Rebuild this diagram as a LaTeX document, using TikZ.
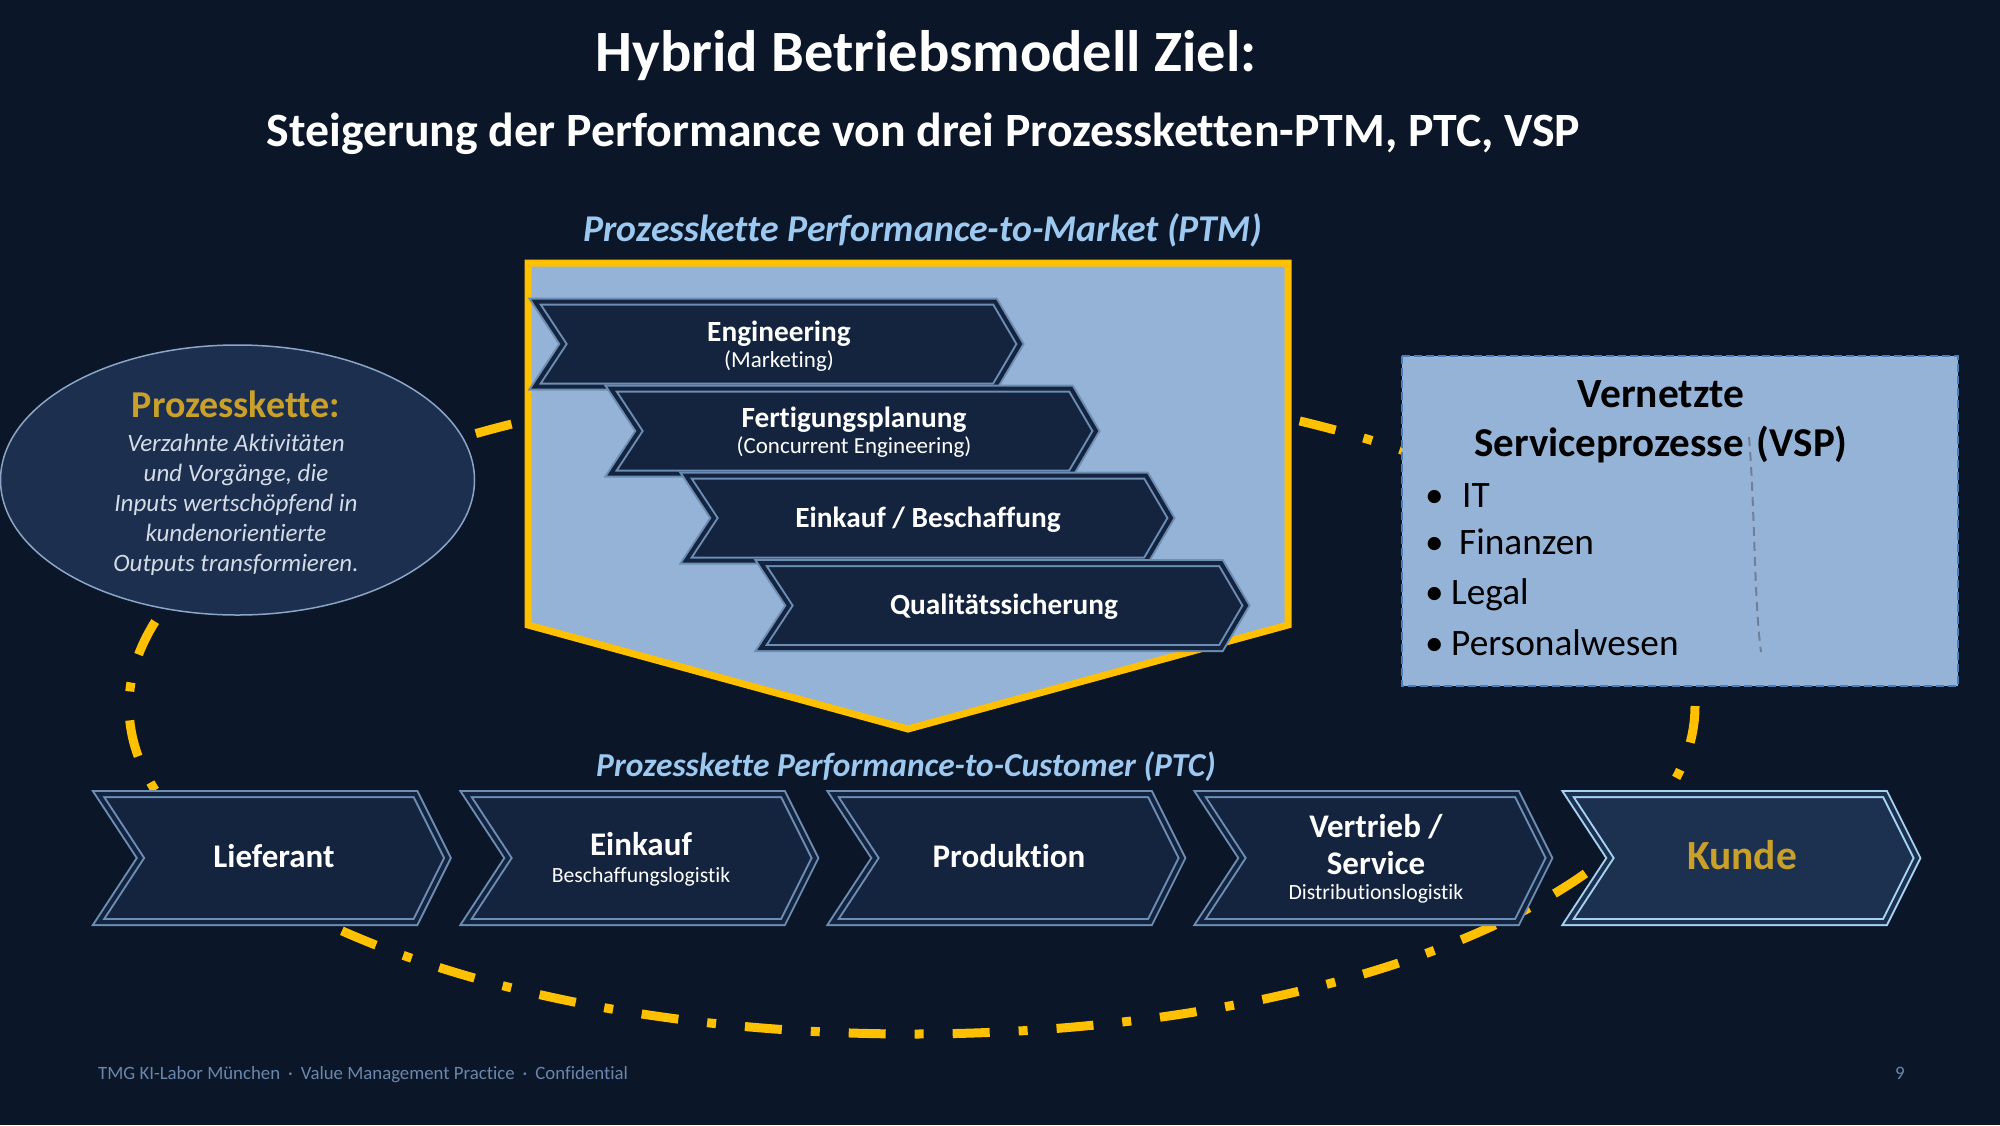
\documentclass[tikz,border=0pt]{standalone}
\usepackage{fontspec}
\setmainfont{Carlito}[Ligatures=NoCommon]
\usetikzlibrary{shapes.geometric}
\definecolor{bg}{HTML}{0B1628}
\definecolor{chevfill}{HTML}{14243F}
\definecolor{chevline}{HTML}{6C8DB4}
\definecolor{kfill}{HTML}{1C3050}
\definecolor{kline}{HTML}{A6D2F2}
\definecolor{ellfill}{HTML}{1D2F4F}
\definecolor{ellline}{HTML}{8AA5C6}
\definecolor{ptmfill}{HTML}{95B3D7}
\definecolor{gelb}{HTML}{FFC000}
\definecolor{vspline}{HTML}{4A7EBB}
\definecolor{lblblue}{HTML}{9DC9F0}
\definecolor{gold}{HTML}{C8A02A}
\definecolor{elltext}{HTML}{D3DBE6}
\definecolor{foot}{HTML}{6A87AB}
\definecolor{curvegrey}{HTML}{6F8099}
\newcommand{\fsz}[1]{\fontsize{#1}{#1}\selectfont}
\newcommand{\chevLow}[3]{\draw[#3] (#1,#2) -- ++(317,0) -- ++(32,64) -- ++(-32,64) -- ++(-317,0) -- ++(42,-64) -- cycle;}
\newcommand{\chevHigh}[3]{\draw[#3] (#1,#2) -- ++(460,0) -- ++(25,42.5) -- ++(-25,42.5) -- ++(-460,0) -- ++(28,-42.5) -- cycle;}
\tikzset{
  txt/.style={anchor=base, inner sep=0pt, outer sep=0pt},
  chevstyle/.style={fill=chevfill, draw=chevline, double=chevfill, double distance=4pt, line width=2pt, line join=miter},
  kundestyle/.style={fill=kfill, draw=kline, double=kfill, double distance=4pt, line width=2pt, line join=miter},
  ptmbox/.style={fill=ptmfill, draw=gelb, line width=7pt, line join=miter},
  vspbox/.style={fill=ptmfill, draw=vspline, line width=2pt, dash pattern=on 8pt off 4pt},
  loopline/.style={draw=gelb, line width=9pt, dash pattern=on 37pt off 29pt on 9pt off 29pt},
  chevbig/.style={txt, text=white, font=\bfseries\fsz{33}},
  chevsmall/.style={txt, text=white, font=\fsz{21.7}},
  ptmbig/.style={txt, text=white, font=\bfseries\fsz{29.3}},
  ptmsmall/.style={txt, text=white, font=\fsz{23}},
  secl/.style={txt, text=lblblue, font=\bfseries\itshape},
  vspitem/.style={anchor=base west, inner sep=0pt, text=black, font=\fsz{37.3}},
  ellit/.style={txt, text=elltext, font=\itshape\fsz{25}},
}
\begin{document}
\begin{tikzpicture}[x=1pt,y=-1pt]
\fill[bg] (0,0) rectangle (2000,1125);
\useasboundingbox (0,0) rectangle (2000,1125);

% yellow dash-dot loop
\draw[loopline] (912,706) ellipse [x radius=783, y radius=328];

% Prozesskette ellipse
\node[ellipse, fill=ellfill, draw=ellline, line width=1.5pt, minimum width=474pt, minimum height=270pt, inner sep=0pt] (pk) at (237.5,480) {};
\node[txt, text=gold, font=\bfseries\fsz{38}] (pkt) at (236,417) {Prozesskette:};
\node[ellit] (pk1) at (236,451) {Verzahnte Aktivitäten};
\node[ellit] (pk2) at (236,481) {und Vorgänge, die};
\node[ellit] (pk3) at (236,511) {Inputs wertschöpfend in};
\node[ellit] (pk4) at (236,541) {kundenorientierte};
\node[ellit] (pk5) at (236,571) {Outputs transformieren.};

% PTM box
\draw[ptmbox] (528,263) -- (1288,263) -- (1288,625) -- (908,729) -- (528,625) -- cycle;
\chevHigh{535}{301.5}{chevstyle}
\chevHigh{611}{388.5}{chevstyle}
\chevHigh{686}{475.5}{chevstyle}
\chevHigh{761}{563}{chevstyle}
\node[ptmbig] (eng) at (779,341) {Engineering};
\node[ptmsmall] (engs) at (779,367) {(Marketing)};
\node[ptmbig] (fert) at (854,427) {Fertigungsplanung};
\node[ptmsmall] (ferts) at (854,453) {(Concurrent Engineering)};
\node[ptmbig] (eink) at (928,527) {Einkauf / Beschaffung};
\node[ptmbig] (qual) at (1004,614) {Qualitätssicherung};

% VSP box
\draw[vspbox] (1402,356) rectangle (1958,686);
\draw[curvegrey, line width=2pt, dash pattern=on 9pt off 6pt] (1749,437) .. controls (1755,510) and (1754,600) .. (1761,652);
\node[txt, text=black, font=\bfseries\fsz{41.5}] (vsp1) at (1661,407) {Vernetzte};
\node[txt, text=black, font=\bfseries\fsz{41}] (vsp2) at (1661,456) {Serviceprozesse\hspace{4pt} (VSP)};
\node[vspitem] (it) at (1425,507) {\makebox[37pt][l]{•}IT};
\node[vspitem] (fin) at (1425,554) {\makebox[34pt][l]{•}Finanzen};
\node[vspitem] (leg) at (1425,604) {\makebox[26pt][l]{•}Legal};
\node[vspitem] (pers) at (1425,655) {\makebox[26pt][l]{•}Personalwesen};

% PTC chevrons
\chevLow{98.5}{794}{chevstyle}
\chevLow{466}{794}{chevstyle}
\chevLow{833}{794}{chevstyle}
\chevLow{1200}{794}{chevstyle}
\chevLow{1568}{794}{kundestyle}
\node[chevbig] (lief) at (274,867) {Lieferant};
\node[chevbig] (einkb) at (641,855) {Einkauf};
\node[chevsmall] (einks) at (641,882) {Beschaffungslogistik};
\node[chevbig] (prod) at (1009,867) {Produktion};
\node[chevbig] (vert1) at (1376,837) {Vertrieb /};
\node[chevbig] (vert2) at (1376,874) {Service};
\node[chevsmall] (verts) at (1376,899) {Distributionslogistik};
\node[txt, text=gold, font=\bfseries\fsz{41.5}] (kunde) at (1742,869) {Kunde};

% titles
\node[txt, text=white, font=\bfseries\fsz{58.5}] (title) at (926,71) {Hybrid Betriebsmodell Ziel:};
\node[txt, text=white, font=\bfseries\fsz{47.8}] (subtitle) at (923.5,146) {Steigerung der Performance von drei Prozessketten-PTM, PTC, VSP};
\node[secl, font=\bfseries\itshape\fsz{37.8}] (ptmlbl) at (923,241) {Prozesskette Performance-to-Market (PTM)};
\node[secl, font=\bfseries\itshape\fsz{33.5}] (ptclbl) at (906,776) {Prozesskette Performance-to-Customer (PTC)};

% footer
\node[anchor=base west, inner sep=0pt, text=foot, font=\fsz{18.8}] (footer) at (98,1079) {TMG KI-Labor München\hspace{8pt}·\hspace{8pt}Value Management Practice\hspace{8pt}·\hspace{8pt}Confidential};
\node[txt, text=foot, font=\fsz{19}] (page) at (1900,1079) {9};
\end{tikzpicture}
\end{document}
